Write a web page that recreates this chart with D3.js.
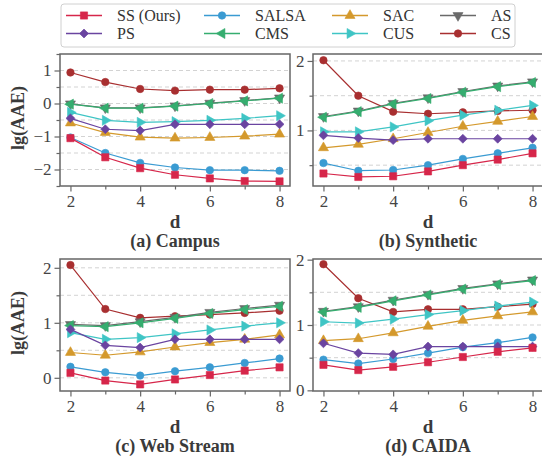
<!DOCTYPE html>
<html><head><meta charset="utf-8">
<script src="https://cdn.jsdelivr.net/npm/d3@7"></script>
<style>body{margin:0;background:#fff}svg{display:block}</style>
</head><body>
<svg id="chart" width="542" height="461"></svg>
<script>
// ---------- DATA ----------
const dValues = [2, 3, 4, 5, 6, 7, 8];
const xTickValues = [2, 4, 6, 8];
const seriesNames = ["SS (Ours)", "PS", "SALSA", "CMS", "SAC", "CUS", "AS", "CS"];
const panelTitles = ["(a) Campus", "(b) Synthetic", "(c) Web Stream", "(d) CAIDA"];

// (a) Campus
const campusSS    = [-1.05, -1.63, -1.96, -2.16, -2.27, -2.35, -2.36];
const campusPS    = [-0.45, -0.78, -0.82, -0.63, -0.63, -0.63, -0.63];
const campusSALSA = [-1.03, -1.50, -1.80, -1.94, -2.02, -2.02, -2.04];
const campusCMS   = [-0.02, -0.14, -0.14, -0.08, 0.00, 0.08, 0.16];
const campusSAC   = [-0.59, -0.88, -1.02, -1.05, -1.03, -0.99, -0.93];
const campusCUS   = [-0.27, -0.51, -0.57, -0.55, -0.51, -0.45, -0.37];
const campusAS    = [-0.01, -0.13, -0.13, -0.07, 0.01, 0.09, 0.17];
const campusCS    = [0.94, 0.65, 0.44, 0.39, 0.42, 0.42, 0.46];

// (b) Synthetic
const synSS    = [0.38, 0.33, 0.34, 0.41, 0.50, 0.58, 0.67];
const synPS    = [0.93, 0.89, 0.86, 0.88, 0.88, 0.88, 0.88];
const synSALSA = [0.53, 0.42, 0.43, 0.50, 0.59, 0.67, 0.75];
const synCMS   = [1.19, 1.27, 1.38, 1.46, 1.55, 1.63, 1.69];
const synSAC   = [0.75, 0.80, 0.88, 0.97, 1.06, 1.13, 1.20];
const synCUS   = [0.98, 0.98, 1.05, 1.14, 1.22, 1.29, 1.36];
const synAS    = [1.20, 1.28, 1.39, 1.47, 1.56, 1.64, 1.70];
const synCS    = [2.01, 1.50, 1.27, 1.24, 1.26, 1.28, 1.29];

// (c) Web Stream
const webSS    = [0.09, -0.05, -0.12, -0.03, 0.05, 0.13, 0.19];
const webPS    = [0.88, 0.59, 0.55, 0.70, 0.70, 0.70, 0.70];
const webSALSA = [0.20, 0.10, 0.04, 0.12, 0.19, 0.27, 0.35];
const webCMS   = [0.95, 0.93, 1.00, 1.08, 1.17, 1.24, 1.30];
const webSAC   = [0.46, 0.41, 0.47, 0.56, 0.64, 0.70, 0.78];
const webCUS   = [0.82, 0.70, 0.73, 0.80, 0.87, 0.94, 1.00];
const webAS    = [0.97, 0.95, 1.02, 1.10, 1.19, 1.26, 1.32];
const webCS    = [2.05, 1.25, 1.09, 1.12, 1.15, 1.18, 1.22];

// (d) CAIDA
const caidaSS    = [0.39, 0.31, 0.36, 0.43, 0.51, 0.59, 0.65];
const caidaPS    = [0.72, 0.57, 0.55, 0.67, 0.67, 0.67, 0.67];
const caidaSALSA = [0.47, 0.41, 0.48, 0.57, 0.66, 0.73, 0.81];
const caidaCMS   = [1.20, 1.27, 1.37, 1.46, 1.55, 1.62, 1.68];
const caidaSAC   = [0.76, 0.79, 0.88, 0.98, 1.07, 1.14, 1.20];
const caidaCUS   = [1.05, 1.03, 1.09, 1.16, 1.22, 1.29, 1.35];
const caidaAS    = [1.21, 1.28, 1.38, 1.47, 1.56, 1.63, 1.69];
const caidaCS    = [1.93, 1.41, 1.20, 1.24, 1.24, 1.28, 1.32];

// y-axis tick labels per panel
const yTicksCampus = [-2, -1, 0, 1];
const yTicksSyn = [1, 2];
const yTicksWeb = [0, 1, 2];
const yTicksCaida = [0, 1, 2];

// ---------- STYLE / LAYOUT ----------
const FONT = '"Liberation Serif"';
const colors = {
  "SS (Ours)": "#d6264a", "PS": "#6a44a0", "SALSA": "#3a9bd2", "CMS": "#35ad6f",
  "SAC": "#d4992c", "CUS": "#3fc5c5", "AS": "#6a6a6a", "CS": "#a82f30"
};
const markers = {
  "SS (Ours)": "square", "PS": "diamond", "SALSA": "circle", "CMS": "left",
  "SAC": "up", "CUS": "right", "AS": "down", "CS": "circle"
};
const svg = d3.select("#chart");

function markerPath(type) {
  switch (type) {
    case "square": return d3.symbol(d3.symbolSquare, 52)();
    case "circle": return d3.symbol(d3.symbolCircle, 44)();
    case "diamond": return d3.symbol(d3.symbolSquare, 40)();
    default: return d3.symbol(d3.symbolTriangle, 44)();
  }
}
function markerRotate(type) {
  return {diamond: 45, up: 0, down: 180, left: -90, right: 90}[type] || 0;
}

const panels = [
  {title: panelTitles[0], x: 60, y: 54, yDomain: [-2.5, 1.5], ticks: yTicksCampus, ylabel: true,
   data: [campusSS, campusPS, campusSALSA, campusCMS, campusSAC, campusCUS, campusAS, campusCS]},
  {title: panelTitles[1], x: 313, y: 54, yDomain: [0.2, 2.1], ticks: yTicksSyn, ylabel: false,
   data: [synSS, synPS, synSALSA, synCMS, synSAC, synCUS, synAS, synCS]},
  {title: panelTitles[2], x: 60, y: 259, yDomain: [-0.24, 2.16], ticks: yTicksWeb, ylabel: true,
   data: [webSS, webPS, webSALSA, webCMS, webSAC, webCUS, webAS, webCS]},
  {title: panelTitles[3], x: 313, y: 259, yDomain: [-0.01, 2.01], ticks: yTicksCaida, ylabel: false,
   data: [caidaSS, caidaPS, caidaSALSA, caidaCMS, caidaSAC, caidaCUS, caidaAS, caidaCS]}
];
const W = 230, H = 132;
const drawOrder = [7, 6, 5, 4, 3, 2, 1, 0];
const fmt = v => (v < 0 ? "\u2212" + Math.abs(v) : String(v));

panels.forEach(p => {
  const g = svg.append("g").attr("transform", `translate(${p.x},${p.y})`);
  const x = d3.scaleLinear().domain([1.7, 8.3]).range([0, W]);
  const y = d3.scaleLinear().domain(p.yDomain).range([H, 0]);

  const gridVals = d3.range(Math.ceil(p.yDomain[0] * 2) / 2, p.yDomain[1] + 1e-9, 0.5)
    .filter(v => y(v) > 1 && y(v) < H - 1);
  g.selectAll(".grid").data(gridVals).join("line")
    .attr("x1", 0).attr("x2", W).attr("y1", d => y(d)).attr("y2", d => y(d))
    .attr("stroke", "#c8c8c8").attr("stroke-width", 0.8).attr("stroke-dasharray", "4,3");

  const minorY = d3.range(Math.ceil(p.yDomain[0] * 2) / 2, p.yDomain[1] + 1e-9, 0.5)
    .filter(v => Math.abs(v - Math.round(v)) > 0.1);
  const gyMinor = g.append("g").call(d3.axisLeft(y).tickValues(minorY).tickSize(3.5).tickFormat(""));
  gyMinor.select(".domain").remove();
  gyMinor.selectAll("line").attr("stroke", "#666").attr("stroke-width", 1.2);

  const gy = g.append("g").call(d3.axisLeft(y).tickValues(p.ticks).tickSize(5.5).tickPadding(3).tickFormat(fmt));
  gy.attr("font-family", null);
  gy.select(".domain").remove();
  gy.selectAll("line").attr("stroke", "#666").attr("stroke-width", 1.2);
  gy.selectAll("text").style("font-family", FONT).style("font-size", "17px").attr("fill", "#444");

  const gxMinor = g.append("g").attr("transform", `translate(0,${H})`)
    .call(d3.axisBottom(x).tickValues([3, 5, 7]).tickSize(3.5).tickFormat(""));
  gxMinor.select(".domain").remove();
  gxMinor.selectAll("line").attr("stroke", "#666").attr("stroke-width", 1.2);

  const gx = g.append("g").attr("transform", `translate(0,${H})`)
    .call(d3.axisBottom(x).tickValues(xTickValues).tickSize(5.5).tickPadding(3).tickFormat(d3.format("d")));
  gx.attr("font-family", null);
  gx.select(".domain").remove();
  gx.selectAll("line").attr("stroke", "#666").attr("stroke-width", 1.2);
  gx.selectAll("text").style("font-family", FONT).style("font-size", "17px").attr("fill", "#444");

  const line = d3.line().x((d, i) => x(dValues[i])).y(d => y(d));
  drawOrder.forEach(si => {
    const name = seriesNames[si];
    const vals = p.data[si];
    const sg = g.append("g");
    sg.append("path").attr("d", line(vals)).attr("fill", "none")
      .attr("stroke", colors[name]).attr("stroke-width", 1.2);
    const m = markers[name];
    sg.selectAll("path.m").data(vals).join("path").attr("class", "m")
      .attr("d", markerPath(m))
      .attr("transform", (d, i) => `translate(${x(dValues[i])},${y(d)}) rotate(${markerRotate(m)})`)
      .attr("fill", colors[name]).attr("stroke", colors[name]).attr("stroke-width", 0.6);
  });

  g.append("rect").attr("x", 0).attr("y", 0).attr("width", W).attr("height", H)
    .attr("fill", "none").attr("stroke", "#666").attr("stroke-width", 1.5);

  g.append("text").attr("x", W / 2).attr("y", H + 42).attr("text-anchor", "middle")
    .style("font-family", FONT).style("font-size", "19px").style("font-weight", "bold").attr("fill", "#3a3a3a").text("d");
  g.append("text").attr("x", W / 2).attr("y", H + 61).attr("text-anchor", "middle")
    .style("font-family", FONT).style("font-size", "18px").style("font-weight", "bold").attr("fill", "#3a3a3a").text(p.title);
  if (p.ylabel) {
    g.append("text").attr("transform", `translate(-36,${H / 2 - 2}) rotate(-90)`)
      .attr("text-anchor", "middle").style("font-family", FONT).style("font-size", "18px")
      .style("font-weight", "bold").attr("fill", "#3a3a3a").text("lg(AAE)");
  }
});

// legend
const leg = svg.append("g");
leg.append("rect").attr("x", 61).attr("y", 4).attr("width", 454).attr("height", 43).attr("rx", 3)
  .attr("fill", "#fff").attr("stroke", "#d0d0d0").attr("stroke-width", 1);
const colX = [66, 204, 332, 440];
const rowY = [15.5, 33.5];
seriesNames.forEach((name, i) => {
  const cx = colX[Math.floor(i / 2)], cy = rowY[i % 2];
  const lg = leg.append("g");
  lg.append("line").attr("x1", cx).attr("x2", cx + 36).attr("y1", cy).attr("y2", cy)
    .attr("stroke", colors[name]).attr("stroke-width", 1.3);
  const m = markers[name];
  lg.append("path").attr("d", markerPath(m))
    .attr("transform", `translate(${cx + 18},${cy}) rotate(${markerRotate(m)})`)
    .attr("fill", colors[name]).attr("stroke", colors[name]).attr("stroke-width", 0.6);
  lg.append("text").attr("x", cx + 51).attr("y", cy).attr("dy", "0.35em")
    .style("font-family", FONT).style("font-size", "16px").attr("fill", "#333").text(name);
});
</script>
</body></html>
